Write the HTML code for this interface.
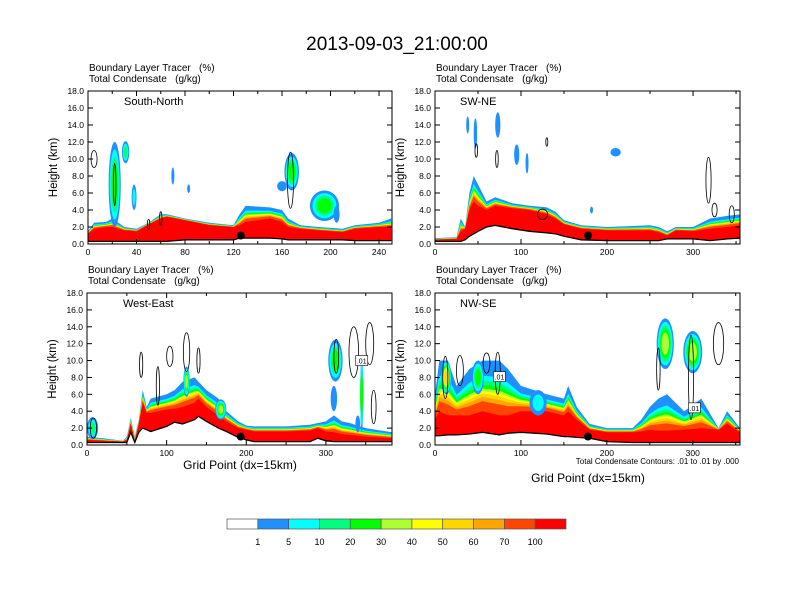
<!DOCTYPE html>
<html><head><meta charset="utf-8"><style>
body{margin:0;background:#fff}
svg{display:block;font-family:"Liberation Sans",Arial,sans-serif}
</style></head><body>
<svg id="fig" width="792" height="612" viewBox="0 0 792 612" xmlns="http://www.w3.org/2000/svg">
<rect width="792" height="612" fill="#fff"/>
<text x="397" y="50" font-size="19" text-anchor="middle">2013-09-03_21:00:00</text>
</svg>
<script>
const levelColors=["#ffffff","#1e90ff","#00ffff","#00ff7f","#00ff00","#adff2f","#ffff00","#ffd700","#ffa500","#ff4500","#ff0000"];
const levelLabels=["1","5","10","20","30","40","50","60","70","100"];
const yTicks=[0,2,4,6,8,10,12,14,16,18];

// Panel: South-North
const snX=[0,5,15,20,30,40,50,60,65,80,100,120,125,130,150,160,165,175,190,210,220,240,250];
const snTerrain=[0.3,0.3,0.3,0.3,0.3,0.3,0.3,0.3,0.3,0.5,0.5,0.5,0.7,0.7,0.7,0.6,0.5,0.5,0.5,0.5,0.4,0.4,0.4];
const snTop=[1.5,2.5,2.6,3.0,2.0,1.8,2.5,3.5,3.5,3.0,2.5,2.2,3.5,4.5,4.3,4.0,3.0,2.2,2.0,1.8,2.2,2.5,3.0];
const snRed=[1.2,1.8,2.0,2.0,1.6,1.5,2.3,3.0,3.2,2.8,2.2,2.0,2.2,2.6,3.0,2.6,2.0,1.8,1.6,1.4,1.8,2.0,2.0];
const snPlumes=[[22,7,5,5,4],[31,10.8,3,1.3,3],[38,5.5,2,1.5,2],[195,4.5,12,1.8,4],[168,8.5,6,2.2,4],[205,3.5,2.5,1,1],[160,6.8,4,0.6,1],[70,8,1,1,1],[83,6.5,1.2,0.5,1]];
const snContours=[[5,10,2.5,1],[22,7,1,2.5],[167,7.5,2.5,3.3],[60,3,1,0.8],[50,2.3,1,0.6]];
const snDot=[126,1.0];

// Panel: SW-NE
const swX=[0,25,30,35,40,45,50,60,70,90,110,130,140,150,170,200,250,260,270,280,300,320,340,355];
const swTerrain=[0.3,0.3,0.3,0.5,0.9,1.2,1.5,2.0,2.2,1.8,1.5,1.3,1.2,0.9,0.5,0.4,0.4,0.4,0.6,0.6,0.6,0.4,0.6,0.7];
const swTop=[0.7,0.8,3,2,6,8,7,5,5.5,4.8,4.5,4.3,3.8,2.8,2.2,2.0,2.2,2.0,1.5,2.0,2.0,3,3.3,3.5];
const swRed=[0.5,0.6,1.5,1.8,4,5,4.5,4,4.5,4.2,4,3.5,3.0,2.3,1.8,1.6,1.6,1.4,1.0,1.6,1.5,1.8,2.0,2.2];
const swPlumes=[[38,14,1.5,1,1],[47,13,2,1.8,1],[73,14,3,1.5,1],[95,10.5,3,1.2,1],[210,10.8,6,0.5,1],[107,9.5,1,1.2,1],[182,4,1.5,0.4,1]];
const swContours=[[48,11,1.5,0.8],[72,10,1.5,1],[130,12,1,0.5],[318,7.5,3,2.7],[325,4,3,0.8],[345,3.5,3,1],[125,3.5,6,0.6]];
const swDot=[178,1.0];

// Panel: West-East
const weX=[0,20,45,50,55,60,65,70,75,80,100,110,120,135,140,150,165,175,190,200,210,250,280,290,300,310,320,330,350,383];
const weTerrain=[0.3,0.3,0.3,0.3,1.5,0.3,1.5,2.0,1.8,1.6,2.2,2.7,2.5,3.0,3.4,2.8,2.0,1.6,0.9,0.6,0.4,0.4,0.4,0.8,0.5,0.4,0.4,0.4,0.4,0.4];
const weTop=[1,0.8,0.5,1,3.2,1,3,6.5,4.5,5.5,6,6.5,7.5,8,7.5,6.5,5.5,4,2.8,2.3,2.2,2.2,2.4,2.6,2.8,3.5,2.8,2.6,2.0,1.5];
const weRed=[0.6,0.5,0.4,0.6,2.5,0.5,2.5,5,3.8,3.8,4.2,4.3,4.5,5,5.5,4.5,3.5,2.8,2.0,1.8,1.6,1.6,1.7,2.0,1.6,1.5,1.3,1.2,1.0,0.8];
const wePlumes=[[7,2,7,1.3,3],[125,7.5,4,1.8,5],[168,4.2,7,1.2,5],[312,10,9,2.5,4],[310,5.5,4,1.5,1],[345,6,1.5,4.5,4],[340,2.5,3,1,1]];
const weContours=[[68,9.5,2,1.5],[89,7,2,2.3],[104,10.5,4,1.2],[125,11,4,2.3],[140,10,2,1.5],[313,10.5,3,2],[335,11,6,3],[355,12,5,2.5],[360,4.5,3,2],[8,2,4,1.2]];
const weDot=[193,1.0];

// Panel: NW-SE
const nwX=[0,5,15,25,40,55,75,85,100,130,150,155,165,180,200,230,240,250,260,270,290,310,330,340,355];
const nwTerrain=[1.1,1.1,1.2,1.2,1.3,1.5,1.2,1.4,1.5,1.3,1.0,1.0,0.9,0.8,0.4,0.3,0.3,0.3,0.3,0.3,0.3,0.3,0.3,0.3,0.3];
const nwTop=[6,10,10,7,9,10,10,9,7,6,5.5,7,4.5,2.5,2,2,3,4.5,5.5,6,4,5.5,2,4,2];
const nwRed=[3,4,3.5,3.5,3.5,4,3.5,3.5,4,4,3.5,4,3,1.8,1.5,1.5,1.6,1.8,1.7,1.7,1.8,2,1.8,2.5,1.5];
const nwPlumes=[[268,12,10,3,5],[300,11,11,2.5,5],[13,8,6,2,7],[50,8,7,2,4],[120,5,10,1.5,2]];
const nwContours=[[29,8.8,4,1.8],[60,9.7,4,1.2],[73,8.5,3,2.5],[330,12,6,2.5],[298,8,3,5],[260,9,2,2.5],[12,8,3,2.5]];
const nwDot=[178,1.0];

const NS="http://www.w3.org/2000/svg";
const svg=document.getElementById("fig");
function mk(tag,attrs,parent){const e=document.createElementNS(NS,tag);for(const k in attrs)e.setAttribute(k,attrs[k]);(parent||svg).appendChild(e);return e;}
const gfr=[1,0.7,0.6,0.52,0.45,0.4,0.35,0.28,0.2];

const panels=[
 {name:"South-North",key:"south-north",x0:88,y0:91,w:304,h:153,xmax:250.7,xt:[0,40,80,120,160,200,240],xminor:20,X:snX,T:snTerrain,H:snTop,R:snRed,P:snPlumes,C:snContours,D:snDot,labels:[]},
 {name:"SW-NE",key:"sw-ne",x0:435,y0:91,w:305,h:153,xmax:354.6,xt:[0,100,200,300],xminor:50,X:swX,T:swTerrain,H:swTop,R:swRed,P:swPlumes,C:swContours,D:swDot,labels:[]},
 {name:"West-East",key:"west-east",x0:87,y0:293,w:305,h:152,xmax:383,xt:[0,100,200,300],xminor:50,X:weX,T:weTerrain,H:weTop,R:weRed,P:wePlumes,C:weContours,D:weDot,labels:[[345,10]]},
 {name:"NW-SE",key:"nw-se",x0:435,y0:293,w:305,h:152,xmax:355,xt:[0,100,200,300],xminor:50,X:nwX,T:nwTerrain,H:nwTop,R:nwRed,P:nwPlumes,C:nwContours,D:nwDot,labels:[[75,8.1],[302,4.4]]}
];

panels.forEach((p,pi)=>{
 const g=mk("g",{});
 
 
 const sx=v=>p.x0+v/p.xmax*p.w;
 const sy=v=>p.y0+p.h-v/18*p.h;
 const cid="clip"+pi;
 const cp=mk("clipPath",{id:cid},g);mk("rect",{x:p.x0,y:p.y0,width:p.w,height:p.h},cp);
 const plot=mk("g",{"clip-path":"url(#"+cid+")"},g);
 for(let k=1;k<=10;k++){
  let d="";
  p.X.forEach((x,i)=>{
   const z=k===10?p.R[i]:p.R[i]+(p.H[i]-p.R[i])*gfr[k-1];
   d+=(i?"L":"M")+sx(x).toFixed(1)+","+sy(z).toFixed(1);});
  for(let i=p.X.length-1;i>=0;i--)d+="L"+sx(p.X[i]).toFixed(1)+","+sy(p.T[i]).toFixed(1);
  const e=mk("path",{d:d+"Z",fill:levelColors[k]},plot);
  
  
 }
 p.P.forEach(pl=>{
  for(let k=1;k<=pl[4];k++){
   const s=1-(k-1)/pl[4]*0.7;
   const e=mk("ellipse",{cx:sx(pl[0]),cy:sy(pl[1]),rx:Math.max(1.5,pl[2]/p.xmax*p.w*s),ry:pl[3]/18*p.h*s,fill:levelColors[k]},plot);
   
   
  }
 });
 let td="";p.X.forEach((x,i)=>{td+=(i?"L":"M")+sx(x).toFixed(1)+","+sy(p.T[i]).toFixed(1);});
 const tl=mk("path",{d:td,fill:"none",stroke:"#000","stroke-width":1.3},plot);
 
 
 p.C.forEach(c=>{
  const e=mk("ellipse",{cx:sx(c[0]),cy:sy(c[1]),rx:Math.max(1,c[2]/p.xmax*p.w),ry:c[3]/18*p.h,fill:"none",stroke:"#000","stroke-width":0.8},plot);
  
  
 });
 p.labels.forEach(l=>{
  const r=mk("rect",{x:sx(l[0])-6,y:sy(l[1])-5,width:12,height:10,fill:"#fff",stroke:"#000","stroke-width":0.6},plot);
  
  
  const t=mk("text",{x:sx(l[0]),y:sy(l[1])+3,"font-size":7,"text-anchor":"middle"},plot);t.textContent=".01";
  
  
 });
 const dot=mk("circle",{cx:sx(p.D[0]),cy:sy(p.D[1]),r:4,fill:"#000"},plot);
 
 
 const fr=mk("rect",{x:p.x0,y:p.y0,width:p.w,height:p.h,fill:"none",stroke:"#000","stroke-width":1},g);
 
 
 yTicks.forEach(v=>{
  const y=sy(v);
  mk("line",{x1:p.x0,x2:p.x0+5,y1:y,y2:y,stroke:"#000"},g);
  mk("line",{x1:p.x0+p.w,x2:p.x0+p.w-5,y1:y,y2:y,stroke:"#000"},g);
  const t=mk("text",{x:p.x0-4,y:y+3,"font-size":8.5,"text-anchor":"end"},g);t.textContent=v.toFixed(1);
  
  
 });
 for(let v=0;v<=p.xmax;v+=p.xminor){
  const x=sx(v),L=(p.xt.indexOf(v)>=0)?5:3;
  mk("line",{x1:x,x2:x,y1:p.y0+p.h,y2:p.y0+p.h-L,stroke:"#000"},g);
  mk("line",{x1:x,x2:x,y1:p.y0,y2:p.y0+L,stroke:"#000"},g);
 }
 p.xt.forEach(v=>{
  const t=mk("text",{x:sx(v),y:p.y0+p.h+11,"font-size":8.5,"text-anchor":"middle"},g);t.textContent=v;
  
  
 });
 const yl=mk("text",{x:0,y:0,"font-size":11.5,"text-anchor":"middle",transform:"translate("+(p.x0-31)+","+(p.y0+p.h/2)+") rotate(-90)"},g);yl.textContent="Height (km)";
 
 
 const s1=mk("text",{x:p.x0+1,y:p.y0-20,"font-size":10},g);s1.textContent="Boundary Layer Tracer\u00a0\u00a0\u00a0(%)";
 
 
 const s2=mk("text",{x:p.x0+1,y:p.y0-9,"font-size":10},g);s2.textContent="Total Condensate\u00a0\u00a0\u00a0(g/kg)";
 
 
 const nm=mk("text",{x:p.x0+(pi%2?25:36),y:p.y0+14,"font-size":11},g);nm.textContent=p.name;
 
 
});
const xa1=mk("text",{x:240,y:469,"font-size":12,"text-anchor":"middle"});xa1.textContent="Grid Point (dx=15km)";


const xa2=mk("text",{x:588,y:482,"font-size":12,"text-anchor":"middle"});xa2.textContent="Grid Point (dx=15km)";


const ft=mk("text",{x:739,y:464,"font-size":8,"text-anchor":"end"});ft.textContent="Total Condensate Contours: .01 to .01 by .000";


const cbx=227,cbw=339,cby=519,cbh=10,bw=cbw/levelColors.length;
levelColors.forEach((c,i)=>{
 const r=mk("rect",{x:cbx+i*bw,y:cby,width:bw,height:cbh,fill:c,stroke:"#555","stroke-width":0.7});
 
 
});
levelLabels.forEach((l,i)=>{
 const t=mk("text",{x:cbx+(i+1)*bw,y:545,"font-size":9,"text-anchor":"middle"});t.textContent=l;
 
 
});
</script>
</body></html>
